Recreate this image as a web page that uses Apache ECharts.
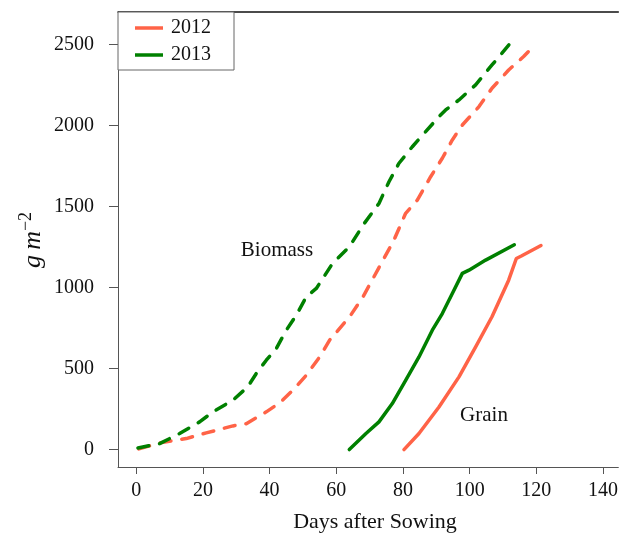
<!DOCTYPE html>
<html>
<head>
<meta charset="utf-8">
<script src="https://cdn.jsdelivr.net/npm/echarts@6/dist/echarts.min.js"></script>
<style>html,body{margin:0;padding:0;background:#fff}#c{width:621px;height:533px}</style>
</head>
<body>
<div id="c"></div>
<script>
// ---- data ----
var xTicks = [0, 20, 40, 60, 80, 100, 120, 140];
var yTicks = [0, 500, 1000, 1500, 2000, 2500];

var bio2012Days = [0.8, 7, 15, 21, 29, 33, 39, 43, 47, 51, 55, 58, 64, 68, 73.5, 77.3, 80.8, 84.3, 88.3, 91.8, 94.8, 97.8, 102.8, 106.7, 111.7, 116.2, 118.7];
var bio2012Vals = [4, 41, 68, 103, 146, 160, 233, 288, 367, 459, 572, 676, 820, 943, 1150, 1294, 1459, 1541, 1685, 1799, 1912, 2004, 2118, 2231, 2344, 2427, 2480];

var bio2013Days = [0.5, 7, 13, 19, 23, 29, 33.4, 36, 39, 42, 45, 48, 51, 54, 58.9, 63.9, 68.4, 72.8, 75.8, 78.8, 82.8, 86.8, 90.8, 92.8, 96.8, 101.8, 106.7, 112.2];
var bio2013Vals = [10, 37, 99, 171, 233, 305, 387, 470, 552, 624, 737, 830, 943, 995, 1150, 1252, 1397, 1520, 1654, 1768, 1870, 1963, 2056, 2097, 2159, 2252, 2375, 2509];

var grain2013Days = [63.9, 68.9, 72.8, 76.8, 80.8, 84.8, 88.8, 91.8, 94.8, 97.8, 99.8, 104.8, 113.4];
var grain2013Vals = [0, 99, 171, 284, 428, 572, 737, 840, 964, 1088, 1108, 1170, 1265];

var grain2012Days = [80.3, 84.8, 90.8, 96.8, 101.8, 106.7, 111.7, 114.0, 115.5, 121.4];
var grain2012Vals = [0, 99, 263, 449, 634, 820, 1046, 1180, 1195, 1260];

var years = ['2012', '2013'];
var colors = {'2012': '#FF6347', '2013': '#008000'};

function zip(a, b) { return a.map(function (d, i) { return [d, b[i]]; }); }

var serif = '"Liberation Serif", "DejaVu Serif", serif';

var chart = echarts.init(document.getElementById('c'));
function lineSeries(name, days, vals, dashed) {
  return {
    name: name, type: 'line', symbol: 'none', showSymbol: false, smooth: false,
    data: zip(days, vals),
    lineStyle: { color: colors[name], width: 3.5, type: dashed ? [11, 11] : 'solid', cap: 'round', join: 'round' },
    itemStyle: { color: colors[name] },
    z: 3
  };
}

chart.setOption({
  animation: false,
  grid: { left: 118, top: 12, right: 0, bottom: 66, containLabel: false },
  legend: {
    data: years, orient: 'vertical', left: 118, top: 12, icon: 'rect',
    padding: [6, 23, 5, 17], itemGap: 7, itemWidth: 28, itemHeight: 3.5,
    backgroundColor: '#fff', borderColor: '#666', borderWidth: 1, borderRadius: 0,
    textStyle: { fontFamily: serif, fontSize: 20, lineHeight: 20, color: '#111', padding: [0, 0, 0, 3] },
    z: 10
  },
  xAxis: [{
    type: 'value', min: -5.48, max: 144.6,
    axisLine: { show: true, onZero: false, lineStyle: { color: '#555', width: 1 } },
    axisTick: { show: true, length: 7, lineStyle: { color: '#555' }, customValues: xTicks },
    axisLabel: { customValues: xTicks, formatter: function (v) { return String(v); }, fontFamily: serif, fontSize: 20, color: '#111', margin: 14 },
    splitLine: { show: false }
  }, {
    type: 'value', position: 'top', min: -5.48, max: 144.6,
    axisLine: { show: true, onZero: false, lineStyle: { color: '#111', width: 1.5 } },
    axisTick: { show: false }, axisLabel: { show: false }, splitLine: { show: false }
  }],
  yAxis: {
    type: 'value', min: -107.6, max: 2702,
    axisLine: { show: true, onZero: false, lineStyle: { color: '#555', width: 1 } },
    axisTick: { show: true, length: 9, lineStyle: { color: '#555' }, customValues: yTicks },
    axisLabel: { customValues: yTicks, formatter: function (v) { return String(v); }, fontFamily: serif, fontSize: 20, color: '#111', margin: 24 },
    splitLine: { show: false }
  },
  series: [
    lineSeries('2012', grain2012Days, grain2012Vals, false),
    lineSeries('2013', grain2013Days, grain2013Vals, false),
    lineSeries('2012', bio2012Days, bio2012Vals, true),
    lineSeries('2013', bio2013Days, bio2013Vals, true)
  ],
  graphic: [
    { type: 'text', x: 375, y: 522, style: { text: 'Days after Sowing', fontFamily: serif, fontSize: 22, fill: '#111', align: 'center', verticalAlign: 'middle' } },
    { type: 'text', x: 277, y: 250, style: { text: 'Biomass', fontFamily: serif, fontSize: 21, fill: '#111', align: 'center', verticalAlign: 'middle' } },
    { type: 'text', x: 484, y: 415, style: { text: 'Grain', fontFamily: serif, fontSize: 21, fill: '#111', align: 'center', verticalAlign: 'middle' } },
    { type: 'text', x: 33, y: 240, rotation: Math.PI / 2,
      style: { text: '{a|g\u2009m}{b|\u22122}', align: 'center', verticalAlign: 'middle', fill: '#111',
        rich: {
          a: { fontFamily: serif, fontStyle: 'italic', fontSize: 26, lineHeight: 32, fill: '#111' },
          b: { fontFamily: serif, fontSize: 18, lineHeight: 18, verticalAlign: 'top', fill: '#111' }
        } } }
  ]
});
</script>
</body>
</html>
